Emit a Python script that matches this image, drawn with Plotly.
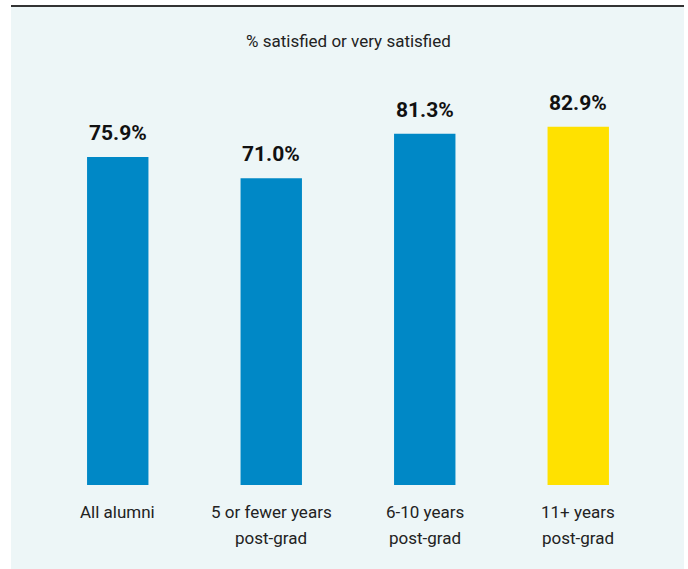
import plotly.graph_objects as go

categories = ["All alumni", "5 or fewer years<br>post-grad", "6-10 years<br>post-grad", "11+ years<br>post-grad"]
values = [75.9, 71.0, 81.3, 82.9]
value_labels = ["75.9%", "71.0%", "81.3%", "82.9%"]
colors = ["#0088c6", "#0088c6", "#0088c6", "#ffe100"]
title_text = "% satisfied or very satisfied"

W, H = 688, 569
L, R, T, B = 41, 33, 53, 84
pw, ph = W - L - R, H - T - B

def px_x(p):
    return (p - L) / pw

def px_y(p):
    return (H - B - p) / ph

FONT = "Roboto, 'Noto Sans', sans-serif"

fig = go.Figure()
fig.add_trace(go.Bar(
    x=list(range(len(categories))), y=values,
    marker=dict(color=colors, line=dict(width=0)),
    hoverinfo="skip",
))

for i, (v, t) in enumerate(zip(values, value_labels)):
    fig.add_annotation(x=i, y=v, text="<b>%s</b>" % t, showarrow=False,
                       yanchor="bottom", yshift=10,
                       font=dict(family=FONT, size=21, color="#111111"))

# category labels, one line per annotation for exact line spacing
for i, cat in enumerate(categories):
    for j, line in enumerate(cat.split("<br>")):
        fig.add_annotation(x=i, y=px_y(512 + 26 * j), yref="paper", text=line,
                           showarrow=False, yanchor="middle",
                           font=dict(family=FONT, size=17, color="#222222"))

fig.add_shape(type="rect", xref="paper", yref="paper",
              x0=px_x(11), x1=px_x(684), y0=px_y(7), y1=px_y(572),
              fillcolor="#edf6f7", line=dict(width=0), layer="below")
fig.add_shape(type="line", xref="paper", yref="paper",
              x0=px_x(11), x1=px_x(684), y0=px_y(6), y1=px_y(6),
              line=dict(color="#333333", width=2))

fig.add_annotation(x=px_x(348), xref="paper", y=px_y(41), yref="paper", text=title_text,
                   showarrow=False, yanchor="middle",
                   font=dict(family=FONT, size=17, color="#222222"))

fig.update_layout(
    width=W, height=H,
    margin=dict(l=L, r=R, t=T, b=B),
    paper_bgcolor="white",
    plot_bgcolor="rgba(0,0,0,0)",
    bargap=0.6,
    showlegend=False,
    xaxis=dict(range=[-0.5, 3.5], showticklabels=False, showgrid=False,
               zeroline=False, showline=False, ticks="", fixedrange=True),
    yaxis=dict(range=[0, 100], visible=False, fixedrange=True),
)

fig.write_html("out.html", config={"displayModeBar": False},
               post_script="document.body.style.margin='0';")
